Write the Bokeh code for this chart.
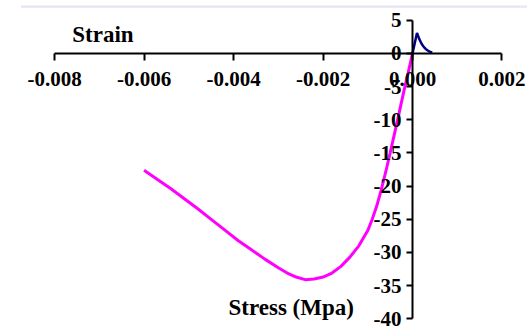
from bokeh.plotting import figure
from bokeh.models import (Range1d, FixedTicker, PrintfTickFormatter, Label, BoxAnnotation)
from bokeh.embed import file_html
from bokeh.resources import INLINE

# Compression branch (strain, stress MPa)
comp_strain = [-0.0060, -0.0057, -0.0054, -0.0051, -0.0048, -0.0045, -0.0042, -0.0039,
               -0.0036, -0.0033, -0.0030, -0.0028, -0.0026, -0.0024, -0.0022, -0.0020,
               -0.0018, -0.0016, -0.0014, -0.0012, -0.0010, -0.0009, -0.0008, -0.0007,
               -0.0006, -0.0005, -0.0004, -0.0003, -0.0002, -0.0001, 0.0]
comp_stress = [-17.6, -19.0, -20.4, -21.9, -23.4, -25.0, -26.6, -28.2,
               -29.6, -31.0, -32.3, -33.1, -33.7, -34.1, -34.0, -33.7,
               -33.1, -32.1, -30.7, -29.0, -26.7, -25.0, -23.0, -20.6,
               -17.9, -15.0, -12.0, -9.0, -5.9, -3.0, 0.0]

# Tension branch
ten_strain = [0.0, 0.0001, 0.00015, 0.0002, 0.00025, 0.0003, 0.00035, 0.0004, 0.00044]
ten_stress = [0.0, 3.1, 2.2, 1.5, 1.0, 0.65, 0.4, 0.25, 0.15]

x_ticks = [-0.008, -0.006, -0.004, -0.002, 0.0, 0.002]
y_ticks = [-40, -35, -30, -25, -20, -15, -10, -5, 0, 5]

W, H = 527, 327
FONT = "Liberation Serif"

p = figure(width=W, height=H, output_backend="svg", toolbar_location=None,
           x_range=Range1d(-0.009209, 0.0025704), y_range=Range1d(-41.31, 7.99),
           min_border=0, min_border_left=0, min_border_right=0,
           min_border_top=0, min_border_bottom=0)
p.outline_line_color = None
p.grid.visible = False
p.background_fill_color = "white"
p.border_fill_color = "white"

# decorative top rule
p.add_layout(BoxAnnotation(left=-0.00875, right=None, bottom=6.89, top=7.24,
                           fill_color="#e6e6f2", fill_alpha=1, line_color=None))

p.line(comp_strain, comp_stress, line_color="#ff00ff", line_width=3)
p.line(ten_strain, ten_stress, line_color="#000080", line_width=2.5)

xa = p.xaxis[0]
xa.fixed_location = 0
xa.bounds = (x_ticks[0], x_ticks[-1])
xa.ticker = FixedTicker(ticks=x_ticks, minor_ticks=[])
xa.formatter = PrintfTickFormatter(format="%.3f")
xa.major_tick_out = 7
xa.major_tick_in = 0
xa.major_label_standoff = 12

ya = p.yaxis[0]
ya.fixed_location = 0
ya.bounds = (y_ticks[0], y_ticks[-1])
ya.ticker = FixedTicker(ticks=y_ticks, minor_ticks=[])
ya.formatter = PrintfTickFormatter(format="%d")
ya.major_tick_out = 6
ya.major_tick_in = 0
ya.major_label_standoff = 5

for ax in (xa, ya):
    ax.axis_line_color = "black"
    ax.axis_line_width = 2
    ax.major_tick_line_color = "black"
    ax.major_tick_line_width = 2
    ax.major_label_text_font = FONT
    ax.major_label_text_font_style = "bold"
    ax.major_label_text_font_size = "21px"
    ax.major_label_text_color = "black"

p.add_layout(Label(x=-0.007606, y=2.86, text="Strain", text_font=FONT,
                   text_font_style="bold", text_font_size="23px",
                   text_baseline="alphabetic", text_align="left", text_color="black"))
p.add_layout(Label(x=-0.004113, y=-38.3, text="Stress (Mpa)", text_font=FONT,
                   text_font_style="bold", text_font_size="23px",
                   text_baseline="alphabetic", text_align="left", text_color="black"))

open("out.html", "w").write(file_html(p, INLINE))
